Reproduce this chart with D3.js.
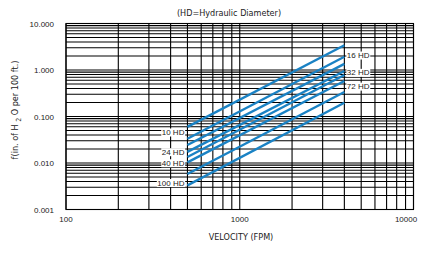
<!DOCTYPE html>
<html>
<head>
<meta charset="utf-8">
<script src="https://cdn.jsdelivr.net/npm/d3@7"></script>
<style>
  body { margin: 0; background: #fff; }
  svg { display: block; }
  .tick-label { font-family: "Liberation Sans", Arial, sans-serif; font-size: 8px; fill: #222; }
  .narrow { font-family: "Liberation Sans Narrow", "Arial Narrow", "DejaVu Sans Condensed", sans-serif; fill: #222; }
</style>
</head>
<body>
<div id="chart"></div>
<script>
// velocity (FPM) where every HD line starts and ends
var velocity = [500, 4000];

// friction (in. of H2O per 100 ft) at 500 and 4000 FPM, top line to bottom line
var frictionAt500  = [0.060, 0.0333, 0.0244, 0.0173, 0.0135, 0.0103, 0.0058, 0.0033];
var frictionAt4000 = [3.40, 1.93, 1.35, 0.95, 0.78, 0.58, 0.337, 0.198];

// line labels: text, side of the lines, friction value they sit at
var labelText = ["10 HD", "24 HD", "40 HD", "100 HD", "16 HD", "32 HD", "72 HD"];
var labelSide = ["left", "left", "left", "left", "right", "right", "right"];
var labelF    = [0.0464, 0.0175, 0.0101, 0.0038, 2.10, 0.89, 0.45];

var xTicks = [100, 1000, 10000];
var yTicks = [0.001, 0.01, 0.1, 1, 10];
var yTickLabels = ["0.001", "0.010", "0.100", "1.000", "10.000"];

var W = 425, H = 263;
var plot = {left: 66, right: 413.5, top: 23.5, bottom: 209.5};

var svg = d3.select("#chart").append("svg")
    .attr("width", W)
    .attr("height", H);

svg.append("rect").attr("width", W).attr("height", H).attr("fill", "#fff");

var x = d3.scaleLog().domain([100, 10000]).range([plot.left, plot.right]);
var y = d3.scaleLog().domain([0.001, 10]).range([plot.bottom, plot.top]);

// graph paper grid
var grid = svg.append("g").attr("stroke", "#000").attr("stroke-width", 1.1);

grid.selectAll("line.v")
  .data(x.ticks())
  .enter().append("line")
    .attr("x1", x).attr("x2", x)
    .attr("y1", plot.top).attr("y2", plot.bottom);

grid.selectAll("line.h")
  .data(y.ticks())
  .enter().append("line")
    .attr("y1", y).attr("y2", y)
    .attr("x1", plot.left).attr("x2", plot.right);

svg.append("rect")
    .attr("x", plot.left).attr("y", plot.top)
    .attr("width", plot.right - plot.left)
    .attr("height", plot.bottom - plot.top)
    .attr("fill", "none")
    .attr("stroke", "#000")
    .attr("stroke-width", 1.1);

// HD lines
var lines = frictionAt500.map(function(f, i) {
  return [{v: velocity[0], f: f}, {v: velocity[1], f: frictionAt4000[i]}];
});

var valueline = d3.line()
    .x(function(d) { return x(d.v); })
    .y(function(d) { return y(d.f); });

svg.append("g").selectAll("path")
  .data(lines)
  .enter().append("path")
    .attr("d", valueline)
    .attr("fill", "none")
    .attr("stroke", "#1a82c4")
    .attr("stroke-width", 2.4);

// labels with white boxes
var labels = svg.append("g");
labelText.forEach(function(t, i) {
  var left = labelSide[i] == "left";
  var g = labels.append("g");
  var txt = g.append("text")
      .attr("class", "tick-label")
      .attr("x", left ? x(velocity[0]) - 3 : x(velocity[1]) + 2.5)
      .attr("y", y(labelF[i]) + 3)
      .attr("text-anchor", left ? "end" : "start")
      .text(t);
  var bb = txt.node().getBBox();
  g.insert("rect", "text")
      .attr("x", bb.x - 0.5).attr("y", bb.y + 0.5)
      .attr("width", bb.width + 1).attr("height", bb.height - 1)
      .attr("fill", "#fff");
});

// tick labels
svg.append("g").selectAll("text")
  .data(yTicks)
  .enter().append("text")
    .attr("class", "tick-label")
    .attr("x", 54)
    .attr("y", function(d) { return y(d) + 3; })
    .attr("text-anchor", "end")
    .text(function(d, i) { return yTickLabels[i]; });

svg.append("g").selectAll("text")
  .data(xTicks)
  .enter().append("text")
    .attr("class", "tick-label")
    .attr("x", function(d, i) { return x(d) + (i == xTicks.length - 1 ? -7.5 : 0); })
    .attr("y", 222)
    .attr("text-anchor", "middle")
    .text(function(d) { return d; });

// titles
svg.append("text")
    .attr("class", "narrow")
    .attr("x", 229).attr("y", 16)
    .attr("text-anchor", "middle")
    .style("font-size", "9px")
    .text("(HD=Hydraulic Diameter)");

svg.append("text")
    .attr("class", "narrow")
    .attr("x", 241).attr("y", 239.5)
    .attr("text-anchor", "middle")
    .style("font-size", "9px")
    .text("VELOCITY (FPM)");

var yt = svg.append("text")
    .attr("class", "narrow")
    .attr("transform", "translate(18,110) rotate(-90)")
    .attr("text-anchor", "middle")
    .style("font-size", "9px");
yt.append("tspan").text("f(in. of H ");
yt.append("tspan").attr("dy", 2.5).style("font-size", "7px").text("2");
yt.append("tspan").attr("dy", -2.5).text(" O per 100 ft.)");
</script>
</body>
</html>
